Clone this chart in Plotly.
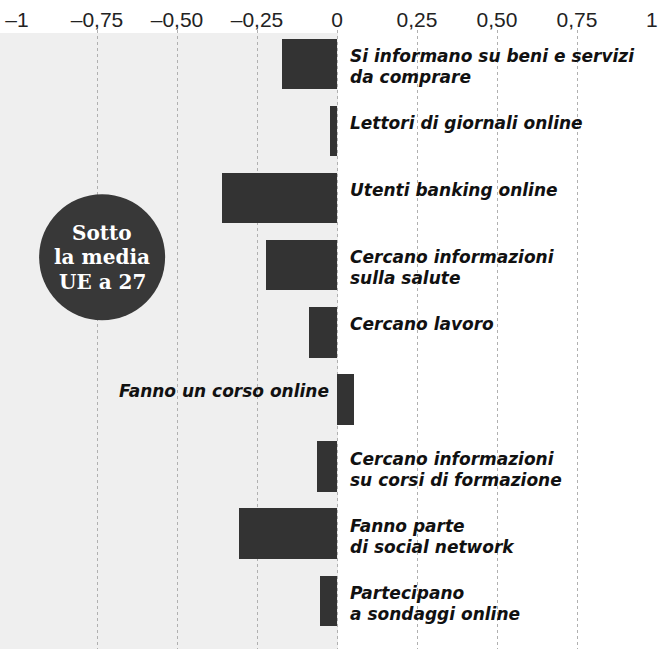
import plotly.graph_objects as go

categories = [
    "Si informano su beni e servizi<br>da comprare",
    "Lettori di giornali online",
    "Utenti banking online",
    "Cercano informazioni<br>sulla salute",
    "Cercano lavoro",
    "Fanno un corso online",
    "Cercano informazioni<br>su corsi di formazione",
    "Fanno parte<br>di social network",
    "Partecipano<br>a sondaggi online",
]
values = [-0.173, -0.023, -0.359, -0.223, -0.089, 0.052, -0.064, -0.305, -0.052]
tick_vals = [-1, -0.75, -0.5, -0.25, 0, 0.25, 0.5, 0.75, 1]
tick_text = ["–1", "–0,75", "–0,50", "–0,25", "0", "0,25", "0,50", "0,75", "1\u2002"]
badge_lines = ["Sotto", "la media", "UE a 27"]

fig = go.Figure()
fig.add_trace(go.Bar(
    x=values, y=categories, orientation="h",
    marker=dict(color="#333333", line=dict(width=0)),
    width=0.75, hoverinfo="skip",
))

label_font = dict(family="DejaVu Sans", size=17, color="#111111")
for cat, v in zip(categories, values):
    lines = cat.split("<br>")
    for i, ln in enumerate(lines):
        ys = 8 - 21 * i
        if v < 0:
            fig.add_annotation(x=0, y=cat, xref="x", yref="y", text="<b><i>%s</i></b>" % ln,
                               showarrow=False, xanchor="left", align="left", xshift=11,
                               yshift=ys, font=label_font)
        else:
            fig.add_annotation(x=0, y=cat, xref="x", yref="y", text="<b><i>%s</i></b>" % ln,
                               showarrow=False, xanchor="right", align="right", xshift=-6,
                               yshift=ys, font=label_font)

# stippled left background (below-average zone)
fig.add_shape(type="rect", xref="paper", yref="paper", x0=-17/640, x1=0.5 + 1/640,
              y0=0, y1=1.0 - 3/619, fillcolor="#efefef", line=dict(width=0), layer="below")

# badge circle
fig.add_shape(type="circle", xref="x", yref="y", xsizemode="pixel", ysizemode="pixel",
              xanchor=-0.734, yanchor=2.88, x0=-63, x1=63, y0=-63, y1=63,
              fillcolor="#383838", line=dict(width=0))
for i, ln in enumerate(badge_lines):
    fig.add_annotation(x=-0.734, y=2.88, xref="x", yref="y", text="<b>%s</b>" % ln,
                       showarrow=False, align="center", yshift=24.5 - 24.5 * i,
                       font=dict(family="DejaVu Serif", size=20, color="white"))

fig.update_layout(
    width=660, height=649,
    margin=dict(l=17, r=3, t=30, b=0, autoexpand=False),
    paper_bgcolor="white", plot_bgcolor="rgba(0,0,0,0)",
    showlegend=False, bargap=0,
    xaxis=dict(range=[-1, 1], side="top", tickvals=tick_vals, ticktext=tick_text,
               showgrid=True, gridcolor="#b0b0b0", griddash="dot", gridwidth=1,
               zeroline=False, showline=False, ticks="", automargin=False,
               ticklabeloverflow="allow", ticklabelstandoff=-2,
               tickfont=dict(family="Liberation Sans", size=21, color="#222222")),
    yaxis=dict(range=[8.72, -0.507], showticklabels=False, showgrid=False,
               zeroline=False, showline=False, ticks="", automargin=False),
)

fig.write_html("out.html", config={"displayModeBar": False},
               post_script="document.body.style.margin='0';")
